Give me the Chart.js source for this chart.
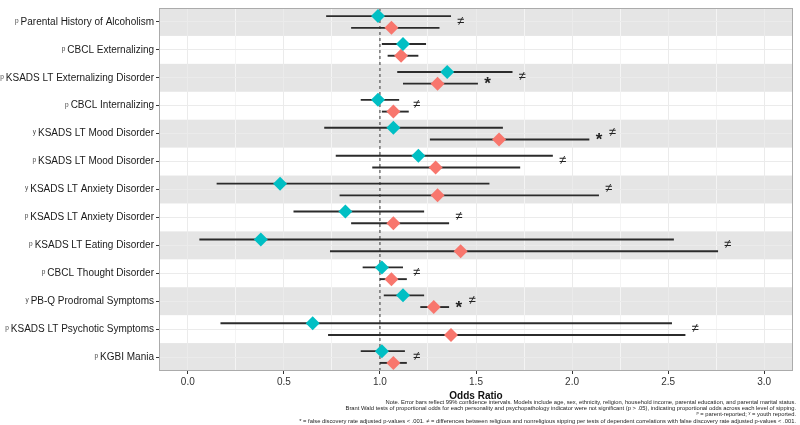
<!DOCTYPE html>
<html>
<head>
<meta charset="utf-8">
<script src="https://cdn.jsdelivr.net/npm/chart.js@4.4.1/dist/chart.umd.min.js"></script>
<style>
  html, body { margin: 0; padding: 0; background: #fff; }
  #wrap { width: 800px; height: 425px; position: relative; }
</style>
</head>
<body>
<div id="wrap"><canvas id="chart"></canvas></div>
<script>
// ==================== DATA ====================
const labels = [
    'Parental History of Alcoholism',
    'CBCL Externalizing',
    'KSADS LT Externalizing Disorder',
    'CBCL Internalizing',
    'KSADS LT Mood Disorder',
    'KSADS LT Mood Disorder',
    'KSADS LT Anxiety Disorder',
    'KSADS LT Anxiety Disorder',
    'KSADS LT Eating Disorder',
    'CBCL Thought Disorder',
    'PB-Q Prodromal Symptoms',
    'KSADS LT Psychotic Symptoms',
    'KGBI Mania'
];
// p = parent-reported, y = youth reported
const reporter = ['p', 'p', 'p', 'p', 'y', 'p', 'y', 'p', 'p', 'p', 'y', 'p', 'p'];

// teal series (upper marker in each row)
const tealOR = [0.99, 1.12, 1.35, 0.99, 1.07, 1.20, 0.48, 0.82, 0.38, 1.01, 1.12, 0.65, 1.01];
const tealLo = [0.72, 1.01, 1.09, 0.90, 0.71, 0.77, 0.15, 0.55, 0.06, 0.91, 1.02, 0.17, 0.90];
const tealHi = [1.37, 1.24, 1.69, 1.10, 1.64, 1.90, 1.57, 1.23, 2.53, 1.12, 1.23, 2.52, 1.13];

// red series (lower marker in each row)
const redOR = [1.06, 1.11, 1.30, 1.07, 1.62, 1.29, 1.30, 1.07, 1.42, 1.06, 1.28, 1.37, 1.07];
const redLo = [0.85, 1.04, 1.12, 1.01, 1.26, 0.96, 0.79, 0.85, 0.74, 1.00, 1.21, 0.73, 1.00];
const redHi = [1.31, 1.20, 1.51, 1.15, 2.09, 1.73, 2.14, 1.36, 2.76, 1.14, 1.36, 2.59, 1.14];

// where the significance marks sit on the odds-ratio axis (null = none)
const neqAt  = [1.42, null, 1.74, 1.19, 2.21, 1.95, 2.19, 1.41, 2.81, 1.19, 1.48, 2.64, 1.19];
const starAt = [null, null, 1.56, null, 2.14, null, null, null, null, null, 1.41, null, null];

const xTicks = [0, 0.25, 0.5, 0.75, 1, 1.25, 1.5, 1.75, 2, 2.25, 2.5, 2.75, 3];

const notes = [
    'Note. Error bars reflect 99% confidence intervals. Models include age, sex, ethnicity, religion, household income, parental education, and parental marital status.',
    'Brant Wald tests of proportional odds for each personality and psychopathology indicator were not significant (p > .05), indicating proportional odds across each level of sipping.',
    '\u1D56 = parent-reported; \u02B8 = youth reported.',
    '* = false discovery rate adjusted p-values < .001. \u2260 = differences between religious and nonreligious sipping per tests of dependent correlations with false discovery rate adjusted p-values < .001.'
];

// ==================== STYLE ====================
const FONT = "'Liberation Sans', Arial, Helvetica, sans-serif";
const TEAL = '#00BFC4';
const RED = '#F8766D';
const OFFSET = 0.21;
const isMajor = v => Math.abs(v * 2 - Math.round(v * 2)) < 1e-6;

Chart.defaults.font.family = FONT;

// ==================== PLUGINS ====================
const bandsPlugin = {
    id: 'bands',
    beforeDraw(chart) {
        const { ctx, chartArea: a, scales: { y } } = chart;
        ctx.save();
        ctx.fillStyle = '#e5e5e5';
        labels.forEach((_, i) => {
            if (i % 2) return;
            const t = Math.max(a.top, y.getPixelForValue(i - 0.5));
            const b = Math.min(a.bottom, y.getPixelForValue(i + 0.5));
            ctx.fillRect(a.left, t, a.right - a.left, b - t);
        });
        ctx.restore();
    }
};

const errorBarsPlugin = {
    id: 'errorBars',
    beforeDatasetsDraw(chart) {
        const { ctx, chartArea: a, scales: { x, y } } = chart;
        ctx.save();

        // reference line at OR = 1
        const x1 = x.getPixelForValue(1);
        ctx.strokeStyle = '#444';
        ctx.lineWidth = 1.1;
        ctx.setLineDash([3, 3]);
        ctx.beginPath();
        ctx.moveTo(x1, a.top);
        ctx.lineTo(x1, a.bottom);
        ctx.stroke();
        ctx.setLineDash([]);

        // confidence intervals
        ctx.strokeStyle = '#2b2b2b';
        ctx.lineWidth = 1.9;
        const seg = (lo, hi, row) => {
            const py = y.getPixelForValue(row);
            ctx.beginPath();
            ctx.moveTo(x.getPixelForValue(lo), py);
            ctx.lineTo(x.getPixelForValue(hi), py);
            ctx.stroke();
        };
        labels.forEach((_, i) => {
            seg(tealLo[i], tealHi[i], i - OFFSET);
            seg(redLo[i], redHi[i], i + OFFSET);
        });
        ctx.restore();
    },
    afterDatasetsDraw(chart) {
        const { ctx, chartArea: a, scales: { x, y } } = chart;
        ctx.save();
        ctx.fillStyle = '#222';
        ctx.textAlign = 'center';
        ctx.textBaseline = 'middle';

        labels.forEach((_, i) => {
            if (neqAt[i] !== null) {
                ctx.font = `13px ${FONT}`;
                ctx.fillText('\u2260', x.getPixelForValue(neqAt[i]), y.getPixelForValue(i) - 1);
            }
            if (starAt[i] !== null) {
                ctx.font = `bold 17px ${FONT}`;
                ctx.fillText('*', x.getPixelForValue(starAt[i]), y.getPixelForValue(i + OFFSET) + 1);
            }
        });

        // panel border
        ctx.strokeStyle = '#ababab';
        ctx.lineWidth = 1;
        ctx.strokeRect(a.left + 0.5, a.top + 0.5, a.right - a.left - 1, a.bottom - a.top - 1);
        ctx.restore();
    }
};

const textPlugin = {
    id: 'extraText',
    afterDraw(chart) {
        const { ctx, scales: { y } } = chart;
        ctx.save();

        // small reporter letters in front of the row labels
        const labelRight = y.right - 5;
        ctx.fillStyle = '#444';
        ctx.textAlign = 'right';
        ctx.textBaseline = 'middle';
        labels.forEach((lab, i) => {
            ctx.font = `10px ${FONT}`;
            const w = ctx.measureText(lab).width;
            ctx.font = `6.5px ${FONT}`;
            ctx.fillText(reporter[i], labelRight - w - 2, y.getPixelForValue(i) - 1);
        });

        // footnote
        ctx.fillStyle = '#222';
        ctx.font = `5.8px ${FONT}`;
        notes.forEach((line, i) => {
            ctx.fillText(line, 796, 402 + i * 6.4);
        });
        ctx.restore();
    }
};

// ==================== CHART ====================
const ctx = document.getElementById('chart').getContext('2d');

new Chart(ctx, {
    type: 'scatter',
    data: {
        datasets: [
            {
                data: tealOR.map((v, i) => ({ x: v, y: i - OFFSET })),
                backgroundColor: TEAL,
                borderColor: TEAL
            },
            {
                data: redOR.map((v, i) => ({ x: v, y: i + OFFSET })),
                backgroundColor: RED,
                borderColor: RED
            }
        ]
    },
    options: {
        responsive: true,
        maintainAspectRatio: false,
        animation: false,
        events: [],
        layout: { padding: { top: 4, right: 3, bottom: 23, left: 0 } },
        plugins: {
            legend: { display: false },
            tooltip: { enabled: false }
        },
        elements: {
            point: { pointStyle: 'rectRot', radius: 7, borderWidth: 0 }
        },
        scales: {
            x: {
                type: 'linear',
                min: -0.15,
                max: 3.15,
                afterBuildTicks: s => { s.ticks = xTicks.map(v => ({ value: v })); },
                afterFit: s => { s.height = 31; },
                border: { display: false },
                grid: {
                    color: c => (c.tick && isMajor(c.tick.value)) ? '#ebebeb' : '#f4f4f4',
                    tickColor: c => (c.tick && isMajor(c.tick.value)) ? '#333' : 'rgba(0,0,0,0)',
                    tickLength: 3,
                    tickWidth: 1
                },
                ticks: {
                    autoSkip: false,
                    maxRotation: 0,
                    padding: 2,
                    color: '#333',
                    font: { size: 10 },
                    callback: v => isMajor(v) ? v.toFixed(1) : ''
                },
                title: {
                    display: true,
                    text: 'Odds Ratio',
                    color: '#111',
                    font: { size: 10, weight: 'bold' },
                    padding: 0
                }
            },
            y: {
                type: 'linear',
                reverse: true,
                min: -0.5,
                max: 12.5,
                afterBuildTicks: s => { s.ticks = labels.map((_, i) => ({ value: i })); },
                afterFit: s => { s.width = 159; },
                border: { display: false },
                grid: {
                    color: '#ebebeb',
                    tickColor: '#333',
                    tickLength: 3,
                    tickWidth: 1
                },
                ticks: {
                    autoSkip: false,
                    padding: 2,
                    color: '#1a1a1a',
                    font: { size: 10 },
                    callback: v => labels[v]
                }
            }
        }
    },
    plugins: [bandsPlugin, errorBarsPlugin, textPlugin]
});
</script>
</body>
</html>
